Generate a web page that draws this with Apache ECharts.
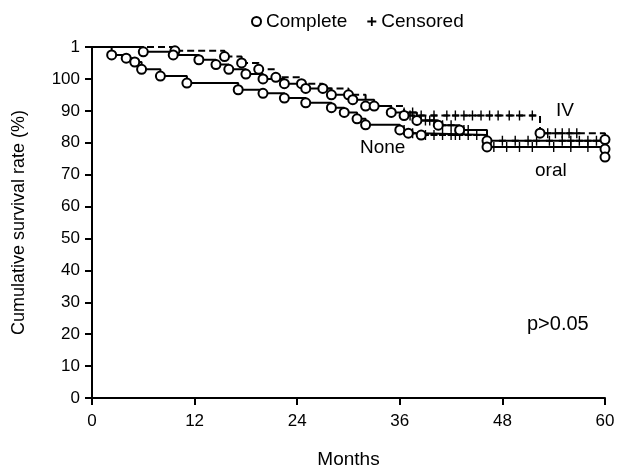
<!DOCTYPE html>
<html>
<head>
<meta charset="utf-8">
<script src="https://cdn.jsdelivr.net/npm/echarts@6/dist/echarts.min.js"></script>
<style>html,body{margin:0;padding:0;background:#fff}#c{width:618px;height:465px}</style>
</head>
<body>
<div id="c"></div>
<script>
// Tick labels
var xTicks = [0, 12, 24, 36, 48, 60];
var yTickLabels = {0:'0',10:'10',20:'20',30:'30',40:'40',50:'50',60:'60',70:'70',80:'80',90:'90',100:'100',110:'1'};

// IV group (dashed): event times (months) and survival (axis units)
var ivT = [0, 9.7, 15.5, 17.5, 19.5, 21.5, 24.5, 27, 30, 32, 36.5, 52.4, 60];
var ivS = [110, 108.8, 107, 105, 103, 100.5, 98.5, 97, 95, 91.5, 88.5, 83, 81];
var ivC = [37.2, 38.5, 40, 41.5, 42.5, 43.5, 44.5, 45.5, 46.5, 47.5, 48.8, 50, 51.5, 53.3, 54.2, 55, 55.8, 56.7];

// Oral group (solid)
var oralT = [0, 6, 9.5, 12.5, 14.5, 16, 18, 20, 22.5, 25, 28, 30.5, 33, 35, 38, 40.5, 43, 46.2, 60];
var oralS = [110, 108.5, 107.5, 106, 104.5, 103, 101.5, 100, 98.5, 97, 95, 93.5, 91.5, 89.5, 87, 85.5, 84, 80.6, 78];
var oralC = [36.5, 37.5, 38, 39, 39.5, 40, 41, 42, 43.5, 44, 48, 49.5, 51, 52, 53.5, 55, 56, 57, 58, 59];

// None group (solid)
var noneT = [0, 2.3, 4, 5, 5.8, 8, 11.1, 17.1, 20, 22.5, 25, 28, 29.5, 31, 32, 36, 37, 38.5, 46.2, 60];
var noneS = [110, 107.5, 106.5, 105.3, 103, 100.9, 98.7, 96.6, 95.5, 94, 92.5, 91, 89.5, 87.5, 85.6, 84, 83, 82.4, 78.7, 75.5];
var noneC = [36.5, 37.5, 39, 40, 41, 42, 42.5, 43, 44, 45, 47, 48.5, 50, 51.5, 54, 56, 58];

function pts(T, S) { return T.map(function (t, i) { return [t, S[i]]; }); }
function events(T, S) { var r = []; for (var i = 1; i < T.length; i++) r.push([T[i], S[i]]); return r; }
function censored(T, S, C) {
  return C.map(function (c) {
    var v = S[0];
    for (var i = 0; i < T.length; i++) { if (T[i] <= c) v = S[i]; }
    return [c, v];
  });
}

var FONT = 'Liberation Sans';
var plusPath = 'path://M4,0H6V4H10V6H6V10H4V6H0V4H4Z';

var chart = echarts.init(document.getElementById('c'), null, {renderer: 'canvas'});
var lineBase = {type: 'line', step: 'end', showSymbol: false, symbol: 'none', silent: true, z: 2};

chart.setOption({
  animation: false,
  backgroundColor: '#fff',
  textStyle: {fontFamily: FONT, color: '#000'},
  legend: {
    left: 246, top: 7,
    itemWidth: 9, itemHeight: 9, itemGap: 20,
    textStyle: {fontFamily: FONT, fontSize: 19, color: '#000'},
    data: ['Complete', 'Censored']
  },
  grid: {left: 92, right: 13, top: 47, bottom: 67, containLabel: false, outerBoundsMode: 'none'},
  xAxis: {
    type: 'value', min: 0, max: 60, interval: 12,
    name: 'Months', nameLocation: 'middle', nameGap: 52,
    nameTextStyle: {fontFamily: FONT, fontSize: 19, color: '#000'},
    axisLine: {lineStyle: {color: '#000', width: 2}},
    axisTick: {length: 7, lineStyle: {color: '#000', width: 2}},
    axisLabel: {fontFamily: FONT, fontSize: 17, color: '#000', margin: 15,
      formatter: function (v) { return xTicks.indexOf(v) >= 0 ? String(v) : ''; }},
    splitLine: {show: false}
  },
  yAxis: {
    type: 'value', min: 0, max: 110, interval: 10,
    name: 'Cumulative survival rate (%)', nameLocation: 'middle', nameGap: 64, nameRotate: 90,
    nameTextStyle: {fontFamily: FONT, fontSize: 18, color: '#000'},
    axisLine: {show: true, lineStyle: {color: '#000', width: 2}},
    axisTick: {show: true, length: 7, lineStyle: {color: '#000', width: 2}},
    axisLabel: {fontFamily: FONT, fontSize: 17, color: '#000', margin: 12,
      formatter: function (v) { return yTickLabels[v] !== undefined ? yTickLabels[v] : ''; }},
    splitLine: {show: false}
  },
  series: [
    Object.assign({}, lineBase, {name: 'IV', data: pts(ivT, ivS), lineStyle: {color: '#000', width: 2, type: [7, 4]}}),
    Object.assign({}, lineBase, {name: 'oral', data: pts(oralT, oralS), lineStyle: {color: '#000', width: 2}}),
    Object.assign({}, lineBase, {name: 'None', data: pts(noneT, noneS), lineStyle: {color: '#000', width: 2}}),
    {type: 'scatter', name: 'Complete', symbol: 'emptyCircle', symbolSize: 9, z: 4,
      itemStyle: {color: '#000', borderColor: '#000', borderWidth: 2, opacity: 1},
      data: events(ivT, ivS).concat(events(oralT, oralS), events(noneT, noneS))},
    {type: 'scatter', name: 'Censored', symbol: plusPath, symbolSize: [7, 10], z: 3,
      itemStyle: {color: '#000', opacity: 1},
      data: censored(ivT, ivS, ivC).concat(censored(oralT, oralS, oralC), censored(noneT, noneS, noneC))}
  ],
  graphic: [
    {type: 'text', left: 556, top: 101, style: {text: 'IV', font: '19px ' + FONT, fill: '#000'}},
    {type: 'text', left: 360, top: 138, style: {text: 'None', font: '19px ' + FONT, fill: '#000'}},
    {type: 'text', left: 535, top: 161, style: {text: 'oral', font: '19px ' + FONT, fill: '#000'}},
    {type: 'text', left: 527, top: 314, style: {text: 'p>0.05', font: '20px ' + FONT, fill: '#000'}}
  ]
});
</script>
</body>
</html>
